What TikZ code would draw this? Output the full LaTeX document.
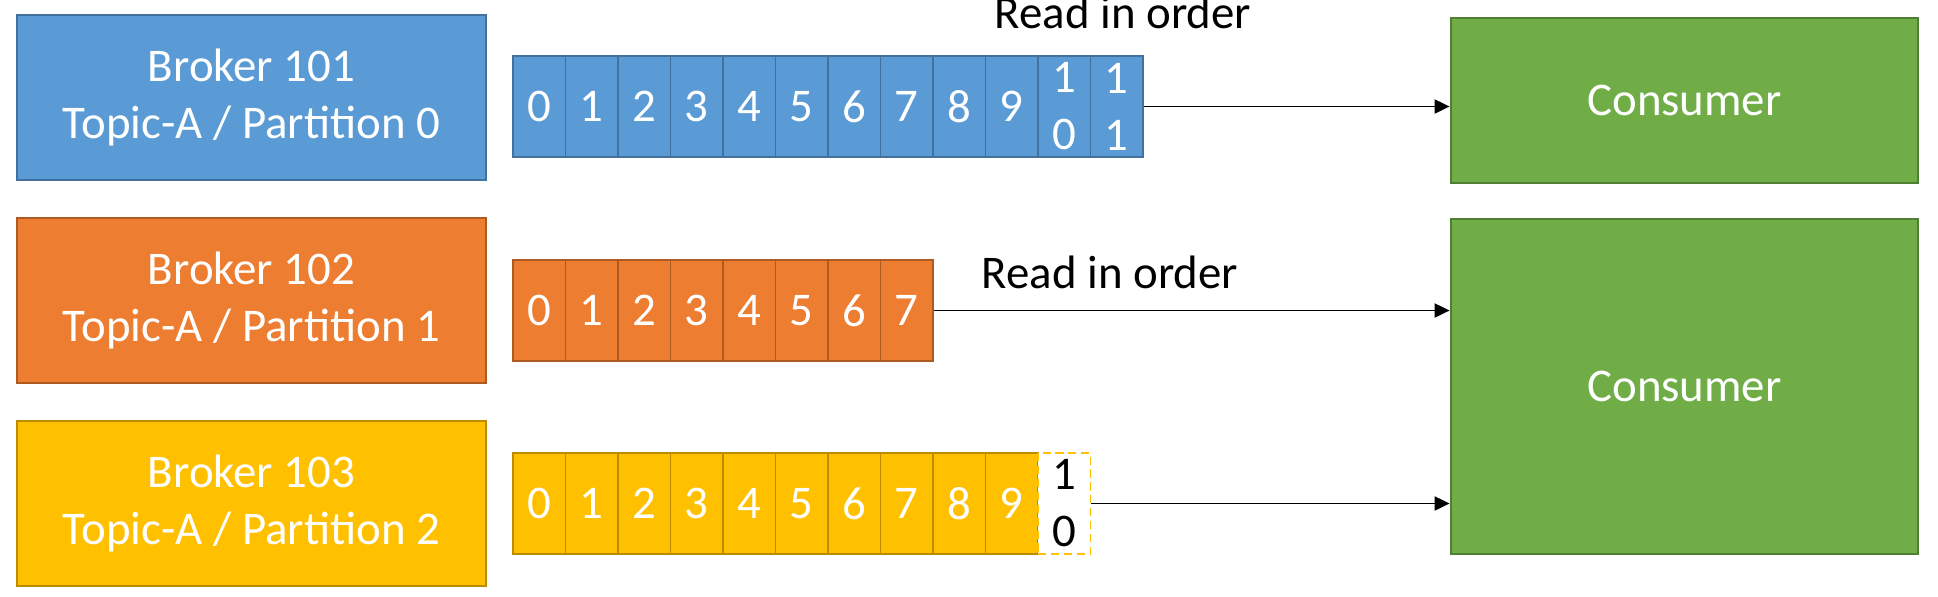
\documentclass[tikz,border=0pt]{standalone}
\usepackage{fontspec}
\setmainfont{Carlito}
\usetikzlibrary{arrows.meta,shapes}
\definecolor{kblue}{HTML}{5B9BD5}
\definecolor{kblueline}{HTML}{41719C}
\definecolor{korange}{HTML}{ED7D31}
\definecolor{korangeline}{HTML}{AE5A21}
\definecolor{kyellow}{HTML}{FFC000}
\definecolor{kyellowline}{HTML}{BC8C00}
\definecolor{kgreen}{HTML}{70AD47}
\definecolor{kgreenline}{HTML}{507E32}
\tikzstyle{broker}=[rectangle,line width=1.2pt,minimum width=7.035cm,minimum height=2.475cm,inner sep=0pt,text=white,align=center]
\tikzstyle{cell}=[rectangle,line width=0.8pt,minimum width=0.7875cm,minimum height=1.515cm,inner sep=0pt,text=white,align=center]
\tikzstyle{consumer}=[rectangle,draw=kgreenline,fill=kgreen,line width=1.2pt,minimum width=7.005cm,inner sep=0pt,text=white]
\tikzstyle{edge} = [draw,line width=0.8pt,-{Triangle[length=6.4pt,width=6pt]}]
\tikzstyle{readlabel} = [anchor=base,inner sep=0pt]

\begin{document}
\begin{tikzpicture}[x=0.015cm,y=-0.015cm,font=\fontsize{20}{24.3}\selectfont]
    \useasboundingbox (0,0) rectangle (1938,596);

    \def\cx{539.25};
    \def\cw{52.5};

    % brokers
    \node[broker, draw=kblueline, fill=kblue] (b101) at (251.5, 97.5) {Broker 101\\Topic-A / Partition 0};
    \node[broker, draw=korangeline, fill=korange] (b102) at (251.5, 300.5) {Broker 102\\Topic-A / Partition 1};
    \node[broker, draw=kyellowline, fill=kyellow] (b103) at (251.5, 503.5) {Broker 103\\Topic-A / Partition 2};

    % partition 0
    \foreach \i in {0,...,9}
        \node[cell, draw=kblueline, fill=kblue] (p0c\i) at (\cx+\cw*\i, 106.5) {\i};
    \node[cell, draw=kblueline, fill=kblue] (p0c10) at (\cx+\cw*10, 106.5) {1\\0};
    \node[cell, draw=kblueline, fill=kblue] (p0c11) at (\cx+\cw*11, 106.5) {1\\1};

    % partition 1
    \foreach \i in {0,...,7}
        \node[cell, draw=korangeline, fill=korange] (p1c\i) at (\cx+\cw*\i, 310.5) {\i};

    % partition 2
    \foreach \i in {0,...,9}
        \node[cell, draw=kyellowline, fill=kyellow] (p2c\i) at (\cx+\cw*\i, 503.5) {\i};
    \node[cell, draw=kyellow, dashed, dash pattern=on 3.5pt off 2pt, fill=white, text=black] (p2c10) at (\cx+\cw*10, 503.5) {1\\0};

    % consumers
    \node[consumer, minimum height=2.475cm] (c1) at (1684.5, 100.5) {Consumer};
    \node[consumer, minimum height=5.025cm] (c2) at (1684.5, 386.5) {Consumer};

    \path[edge] (p0c11) -- (p0c11 -| c1.west);
    \path[edge] (p1c7) -- (p1c7 -| c2.west);
    \path[edge] (p2c10) -- (p2c10 -| c2.west);

    \node[readlabel] (read0) at (1123, 28) {Read in order};
    \node[readlabel] (read1) at (1110, 288) {Read in order};

\end{tikzpicture}
\end{document}
